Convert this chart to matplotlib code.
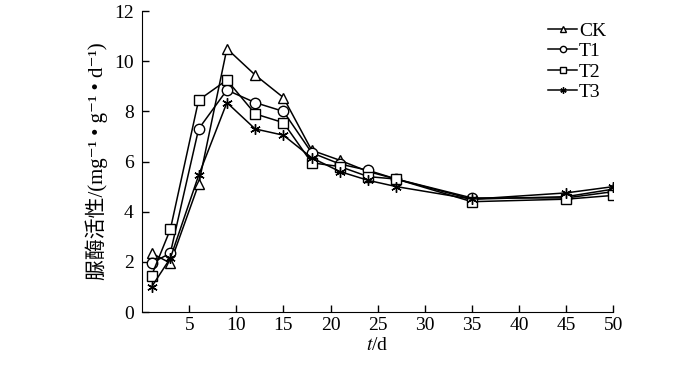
import numpy as np
import matplotlib
matplotlib.use("Agg")
import matplotlib.pyplot as plt

plt.rcParams['font.family'] = ['Liberation Serif', 'DejaVu Serif', 'Noto Sans CJK SC']
plt.rcParams['mathtext.fontset'] = 'stix'

days = [1, 3, 6, 9, 12, 15, 18, 21, 24, 27, 35, 45, 50]
ck = [2.35, 1.95, 5.1, 10.5, 9.45, 8.55, 6.45, 6.05, 5.6, 5.3, 4.5, 4.6, 4.9]
t1 = [1.95, 2.35, 7.3, 8.85, 8.35, 8.0, 6.35, 5.9, 5.65, 5.3, 4.55, 4.55, 4.8]
t2 = [1.45, 3.3, 8.45, 9.25, 7.9, 7.55, 5.95, 5.8, 5.4, 5.3, 4.4, 4.5, 4.65]
t3 = [1.0, 2.15, 5.45, 8.35, 7.3, 7.05, 6.15, 5.6, 5.25, 5.0, 4.5, 4.75, 5.0]

series = [("CK", ck, "^"), ("T1", t1, "o"), ("T2", t2, "s"), ("T3", t3, (6, 2, 0))]

fig = plt.figure(figsize=(7, 3.68), dpi=100)
ax = fig.add_axes([0.203, 0.152, 0.673, 0.818])

for name, vals, mk in series:
    ax.plot(days, vals, color="black", lw=1.1, marker=mk, markersize=7.5,
            markerfacecolor="white", markeredgecolor="black", markeredgewidth=1.0,
            label=name)

ax.set_xlim(0, 50)
ax.set_ylim(0, 12)
ax.set_xticks(np.arange(5, 51, 5))
ax.set_yticks(np.arange(0, 13, 2))
ax.tick_params(direction="in", labelsize=14, length=5, width=1)
ax.tick_params(axis="y", pad=6)
for s in ["top", "right"]:
    ax.spines[s].set_visible(False)
ax.set_xlabel("$t$/d", fontsize=14, labelpad=2)
ax.set_ylabel("脲酶活性/(mg⁻¹ • g⁻¹ • d⁻¹)", fontsize=15, labelpad=4)

leg = fig.legend(loc="upper left", bbox_to_anchor=(548 / 700, 1 - 22 / 368),
                 frameon=False, fontsize=14, handlelength=1.5, handletextpad=0.1,
                 labelspacing=0.15, borderpad=0, borderaxespad=0, markerscale=0.6)

fig.savefig("out.png", dpi=100)
